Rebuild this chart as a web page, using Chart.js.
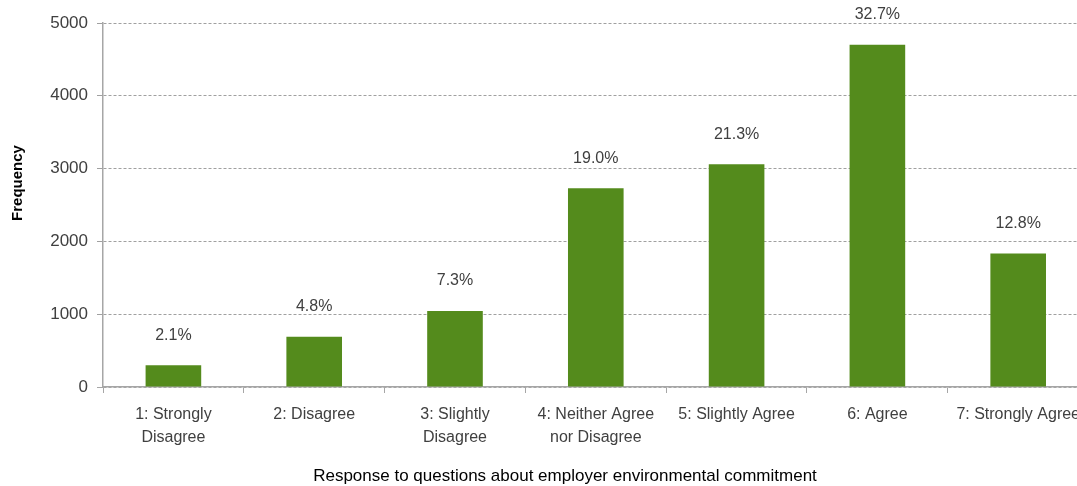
<!DOCTYPE html>
<html>
<head>
    <script src="https://cdn.jsdelivr.net/npm/chart.js@4.4.1/dist/chart.umd.min.js"></script>
    <style>
        html, body { margin: 0; padding: 0; background: #fff; overflow: hidden; }
        #wrap { width: 1090px; height: 486px; }
    </style>
</head>
<body>
<div id="wrap">
    <canvas id="myChart" width="1090" height="486"></canvas>
</div>

<script>
    const categories = [
        ["1: Strongly", "Disagree"],
        "2: Disagree",
        ["3: Slightly", "Disagree"],
        ["4: Neither Agree", "nor Disagree"],
        "5: Slightly Agree",
        "6: Agree",
        "7: Strongly Agree"
    ];
    const frequency = [300, 690, 1045, 2730, 3060, 4700, 1835];
    const percentLabels = ["2.1%", "4.8%", "7.3%", "19.0%", "21.3%", "32.7%", "12.8%"];
    const yTicks = [0, 1000, 2000, 3000, 4000, 5000];
    const xTitle = "Response to questions about employer environmental commitment";
    const yTitle = "Frequency";

    const fam = "'Liberation Sans', Arial, sans-serif";

    // percent labels above bars + both axis titles
    const labelsPlugin = {
        id: "labelsPlugin",
        afterDatasetsDraw(chart) {
            const ctx = chart.ctx;
            const meta = chart.getDatasetMeta(0);
            ctx.save();
            ctx.font = "16px " + fam;
            ctx.fillStyle = "#404040";
            ctx.textAlign = "center";
            ctx.textBaseline = "middle";
            meta.data.forEach((bar, i) => {
                ctx.fillText(percentLabels[i], bar.x, bar.y - 30);
            });

            ctx.fillStyle = "#000";
            ctx.font = "17px " + fam;
            ctx.fillText(xTitle, 565, 476);

            ctx.translate(18, 183);
            ctx.rotate(-Math.PI / 2);
            ctx.font = "bold 15px " + fam;
            ctx.fillText(yTitle, 0, 0);
            ctx.restore();
        }
    };

    let myChart = new Chart("myChart", {
        type: "bar",
        data: {
            labels: categories,
            datasets: [{
                data: frequency,
                backgroundColor: "#548b1c",
                barPercentage: 0.395,
                categoryPercentage: 1.0
            }]
        },
        options: {
            responsive: false,
            animation: false,
            layout: { padding: { top: 23, right: 0, bottom: 0, left: 0 } },
            plugins: {
                legend: { display: false },
                tooltip: { enabled: false }
            },
            scales: {
                x: {
                    grid: {
                        display: true,
                        drawOnChartArea: false,
                        drawTicks: true,
                        tickLength: 6,
                        color: "#a6a6a6",
                        offset: true
                    },
                    border: { display: true, color: "#a6a6a6", width: 1.5 },
                    ticks: {
                        color: "#404040",
                        font: { family: fam, size: 16, lineHeight: 1.45 },
                        padding: 10,
                        maxRotation: 0,
                        autoSkip: false
                    },
                    afterFit(scale) { scale.height = 99; }
                },
                y: {
                    min: 0,
                    max: 5000,
                    afterBuildTicks(scale) {
                        scale.ticks = yTicks.map(v => ({ value: v }));
                    },
                    grid: {
                        color: (c) => c.tick && c.tick.value === 0 ? "#a6a6a6" : "#a0a0a0",
                        tickLength: 6,
                        lineWidth: 1
                    },
                    border: { display: true, color: "#a6a6a6", width: 1.5, dash: [3, 2] },
                    ticks: {
                        color: "#404040",
                        font: { family: fam, size: 17 },
                        padding: 9,
                        callback: (v) => String(v)
                    },
                    afterFit(scale) { scale.width = 103; }
                }
            }
        },
        plugins: [labelsPlugin]
    });
</script>
</body>
</html>
